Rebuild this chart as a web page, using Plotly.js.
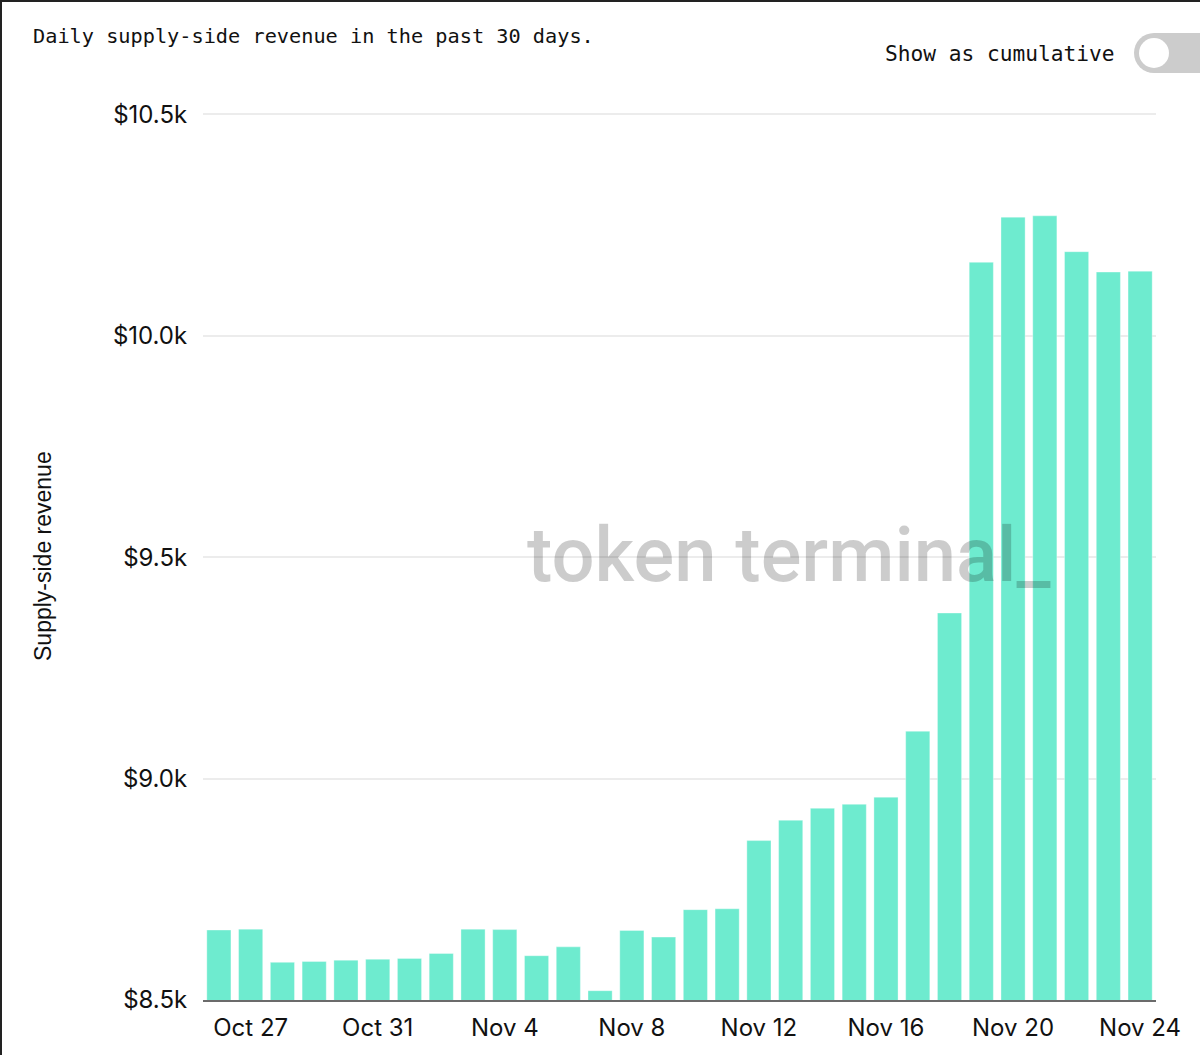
<!DOCTYPE html>
<html>
<head>
<meta charset="utf-8">
<script src="https://cdn.plot.ly/plotly-3.0.1.min.js"></script>
<style>
  html, body { margin: 0; padding: 0; background: #fff; overflow: hidden; }
  #wrap { position: relative; width: 1200px; height: 1055px; }
  #chart { position: absolute; left: 0; top: 0; width: 1200px; height: 1055px; }
  .edge-top { position: absolute; left: 0; top: 0; width: 1200px; height: 2px; background: #222; }
  .edge-left { position: absolute; left: 0; top: 0; width: 2px; height: 1055px; background: #222; }
  .toggle { position: absolute; left: 1134px; top: 33px; width: 90px; height: 40px; border-radius: 20px; background: #cccccc; }
  .knob { position: absolute; left: 1139px; top: 38px; width: 30px; height: 30px; border-radius: 15px; background: #fff; }
</style>
</head>
<body>
<div id="wrap">
  <div id="chart"></div>
  <div class="toggle"></div>
  <div class="knob"></div>
  <div class="edge-top"></div>
  <div class="edge-left"></div>
</div>
<script>
// Daily supply-side revenue, last 30 days (USD)
const days = [
  'Oct 26', 'Oct 27', 'Oct 28', 'Oct 29', 'Oct 30', 'Oct 31',
  'Nov 1', 'Nov 2', 'Nov 3', 'Nov 4', 'Nov 5', 'Nov 6', 'Nov 7', 'Nov 8',
  'Nov 9', 'Nov 10', 'Nov 11', 'Nov 12', 'Nov 13', 'Nov 14', 'Nov 15',
  'Nov 16', 'Nov 17', 'Nov 18', 'Nov 19', 'Nov 20', 'Nov 21', 'Nov 22',
  'Nov 23', 'Nov 24'
];
const revenue = [
  8658, 8660, 8585, 8587, 8590, 8592,
  8594, 8605, 8660, 8659, 8600, 8620, 8521, 8657,
  8642, 8704, 8706, 8860, 8906, 8933, 8942,
  8958, 9107, 9374, 10166, 10268, 10271, 10190,
  10144, 10146
];
const xTickLabels = ['Oct 27', 'Oct 31', 'Nov 4', 'Nov 8', 'Nov 12', 'Nov 16', 'Nov 20', 'Nov 24'];
const yTickValues = [8500, 9000, 9500, 10000, 10500];
const yTickLabels = ['$8.5k', '$9.0k', '$9.5k', '$10.0k', '$10.5k'];

const sansFont = 'Inter, "Liberation Sans", Arial, sans-serif';
const monoFont = '"DejaVu Sans Mono", "Liberation Mono", monospace';

const trace = {
  type: 'bar',
  x: days,
  y: revenue,
  marker: {
    color: '#6eebcf',
    line: { color: 'rgba(255,255,255,0.35)', width: 1 }
  },
  hoverinfo: 'x+y'
};

// plot area: x 203..1156 px, y from the $8.5k baseline (1000 px) upward
const layout = {
  width: 1200,
  height: 1055,
  margin: { l: 203, r: 44, t: 110, b: 55 },
  paper_bgcolor: '#ffffff',
  plot_bgcolor: '#ffffff',
  bargap: 0.24,
  showlegend: false,
  font: { family: sansFont, color: '#111', size: 24 },
  title: {
    text: 'Daily supply-side revenue in the past 30 days.',
    font: { family: monoFont, size: 20.25, color: '#111' },
    xref: 'container', yref: 'container',
    x: 33 / 1200, xanchor: 'left',
    y: 1 - 36 / 1055, yanchor: 'middle'
  },
  xaxis: {
    type: 'category',
    range: [-0.5, days.length - 0.5],
    tickmode: 'array',
    tickvals: xTickLabels,
    ticktext: xTickLabels,
    ticks: 'outside',
    ticklen: 5,
    tickcolor: 'rgba(0,0,0,0)',
    tickfont: { family: sansFont, size: 24, color: '#111' },
    showgrid: false,
    showline: true,
    linecolor: '#6b6b6b',
    linewidth: 2,
    zeroline: false,
    fixedrange: true
  },
  yaxis: {
    range: [8500, 10510],
    tickmode: 'array',
    tickvals: yTickValues,
    ticktext: yTickLabels,
    ticks: 'outside',
    ticklen: 10,
    tickcolor: 'rgba(0,0,0,0)',
    tickfont: { family: sansFont, size: 24, color: '#111' },
    showgrid: true,
    gridcolor: '#ececec',
    gridwidth: 2,
    zeroline: false,
    showline: false,
    fixedrange: true,
    automargin: false
  },
  annotations: [
    {
      text: 'Supply-side revenue',
      xref: 'paper', yref: 'paper',
      x: (43 - 203) / 953, y: (1000 - 556) / 890,
      xanchor: 'center', yanchor: 'middle',
      textangle: -90,
      showarrow: false,
      font: { family: '"Liberation Sans", Arial, sans-serif', size: 23, color: '#111' }
    },
    {
      text: 'token terminal_',
      xref: 'paper', yref: 'paper',
      x: (788 - 203) / 953, y: (1000 - 555) / 890,
      xanchor: 'center', yanchor: 'middle',
      showarrow: false,
      font: { family: 'Roboto, Inter, sans-serif', size: 76, weight: 500, color: 'rgba(0,0,0,0.2)' }
    },
    {
      text: 'Show as cumulative',
      xref: 'paper', yref: 'paper',
      x: (883 - 203) / 953, y: (1000 - 53) / 890,
      xanchor: 'left', yanchor: 'middle',
      showarrow: false,
      font: { family: monoFont, size: 21.2, color: '#111' }
    }
  ]
};

Plotly.newPlot('chart', [trace], layout, { displayModeBar: false, staticPlot: true });
</script>
</body>
</html>
